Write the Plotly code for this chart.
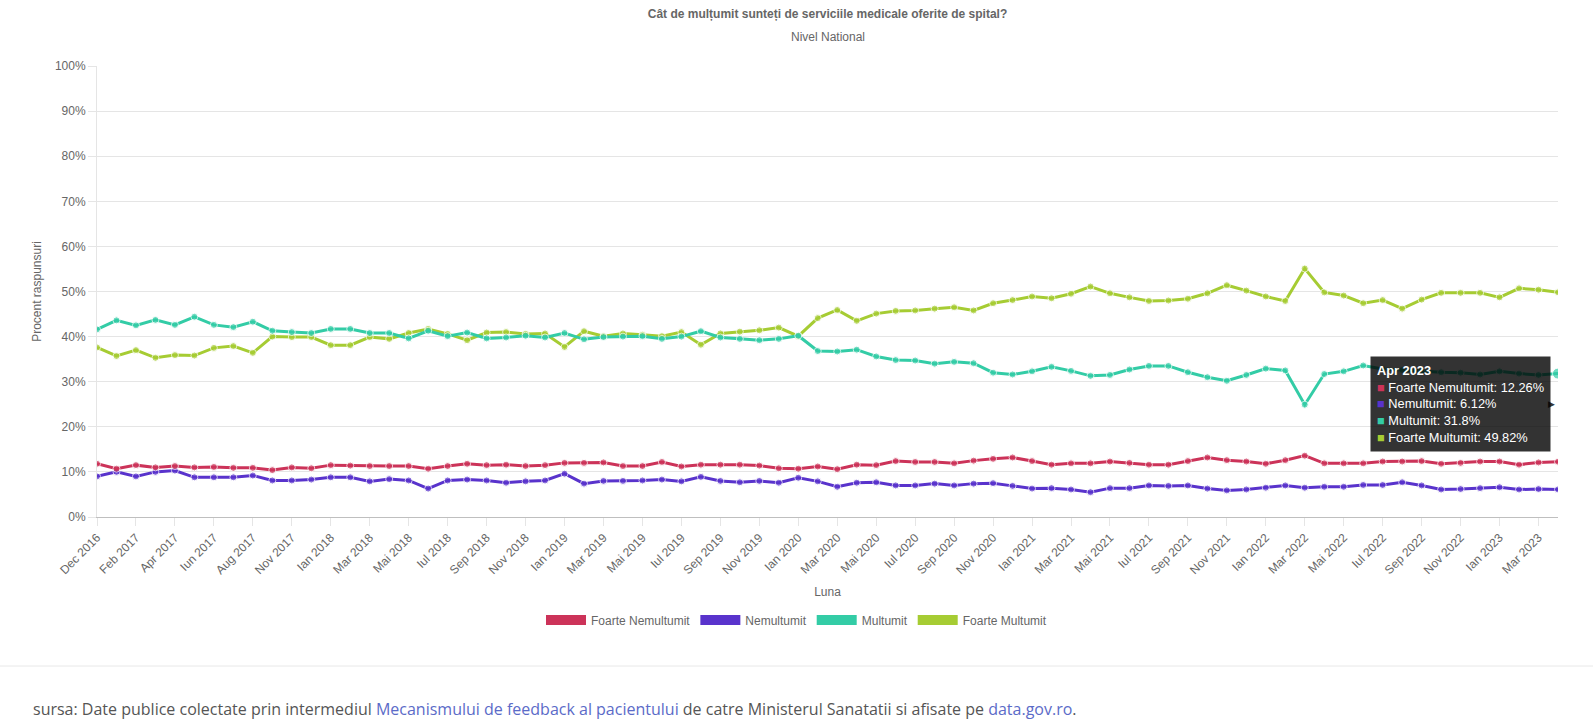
import plotly.graph_objects as go

# lunile din setul de date (Oct 2017 lipseste)
months = [
    "Dec 2016",
    "Ian 2017", "Feb 2017", "Mar 2017", "Apr 2017", "Mai 2017", "Iun 2017",
    "Iul 2017", "Aug 2017", "Sep 2017", "Nov 2017", "Dec 2017",
    "Ian 2018", "Feb 2018", "Mar 2018", "Apr 2018", "Mai 2018", "Iun 2018",
    "Iul 2018", "Aug 2018", "Sep 2018", "Oct 2018", "Nov 2018", "Dec 2018",
    "Ian 2019", "Feb 2019", "Mar 2019", "Apr 2019", "Mai 2019", "Iun 2019",
    "Iul 2019", "Aug 2019", "Sep 2019", "Oct 2019", "Nov 2019", "Dec 2019",
    "Ian 2020", "Feb 2020", "Mar 2020", "Apr 2020", "Mai 2020", "Iun 2020",
    "Iul 2020", "Aug 2020", "Sep 2020", "Oct 2020", "Nov 2020", "Dec 2020",
    "Ian 2021", "Feb 2021", "Mar 2021", "Apr 2021", "Mai 2021", "Iun 2021",
    "Iul 2021", "Aug 2021", "Sep 2021", "Oct 2021", "Nov 2021", "Dec 2021",
    "Ian 2022", "Feb 2022", "Mar 2022", "Apr 2022", "Mai 2022", "Iun 2022",
    "Iul 2022", "Aug 2022", "Sep 2022", "Oct 2022", "Nov 2022", "Dec 2022",
    "Ian 2023", "Feb 2023", "Mar 2023", "Apr 2023",
]

foarte_nemultumit = [
    11.8, 10.7, 11.5, 11.0, 11.3, 11.0, 11.1, 10.9, 10.9, 10.4, 11.0, 10.8,
    11.5, 11.4, 11.3, 11.3, 11.3, 10.7, 11.3, 11.8, 11.5, 11.6, 11.3, 11.5,
    12.0, 12.0, 12.1, 11.3, 11.3, 12.2, 11.2, 11.6, 11.6, 11.6, 11.4, 10.8,
    10.7, 11.2, 10.6, 11.6, 11.5, 12.4, 12.2, 12.2, 11.9, 12.5, 12.9, 13.2,
    12.4, 11.6, 11.9, 11.9, 12.3, 12.0, 11.6, 11.6, 12.4, 13.2, 12.6, 12.3,
    11.8, 12.6, 13.6, 11.9, 11.9, 11.9, 12.3, 12.3, 12.4, 11.8, 12.0, 12.3,
    12.3, 11.6, 12.1, 12.26,
]
nemultumit = [
    9.0, 10.0, 9.0, 10.0, 10.3, 8.8, 8.8, 8.8, 9.2, 8.1, 8.1, 8.3,
    8.8, 8.8, 7.9, 8.4, 8.1, 6.3, 8.1, 8.3, 8.1, 7.6, 7.9, 8.1,
    9.6, 7.4, 8.0, 8.0, 8.1, 8.3, 7.9, 8.9, 8.0, 7.7, 8.0, 7.6,
    8.7, 7.9, 6.7, 7.6, 7.7, 7.0, 7.0, 7.4, 7.0, 7.4, 7.5, 6.9,
    6.3, 6.4, 6.1, 5.5, 6.4, 6.4, 7.0, 6.9, 7.0, 6.3, 5.9, 6.1,
    6.5, 7.0, 6.5, 6.7, 6.7, 7.1, 7.1, 7.7, 7.0, 6.1, 6.2, 6.4,
    6.6, 6.1, 6.2, 6.12,
]
multumit = [
    41.6, 43.6, 42.5, 43.7, 42.6, 44.4, 42.6, 42.1, 43.3, 41.3, 41.0, 40.8,
    41.7, 41.7, 40.8, 40.8, 39.6, 41.3, 40.1, 40.9, 39.6, 39.8, 40.2, 39.8,
    40.8, 39.4, 39.9, 40.0, 40.1, 39.5, 40.0, 41.2, 39.8, 39.5, 39.2, 39.5,
    40.2, 36.8, 36.7, 37.1, 35.6, 34.8, 34.7, 34.0, 34.4, 34.1, 32.0, 31.6,
    32.3, 33.3, 32.4, 31.3, 31.5, 32.7, 33.5, 33.5, 32.1, 31.0, 30.2, 31.5,
    32.9, 32.5, 24.9, 31.7, 32.3, 33.6, 32.8, 32.6, 32.3, 32.1, 32.0, 31.6,
    32.3, 31.8, 31.5, 31.8,
]
foarte_multumit = [
    37.6, 35.7, 37.0, 35.3, 35.9, 35.8, 37.5, 37.9, 36.4, 40.0, 39.9, 39.9,
    38.1, 38.1, 39.9, 39.5, 40.8, 41.7, 40.6, 39.2, 40.9, 41.0, 40.6, 40.7,
    37.7, 41.2, 40.1, 40.7, 40.4, 40.1, 41.0, 38.2, 40.7, 41.1, 41.4, 42.0,
    40.1, 44.1, 45.9, 43.5, 45.1, 45.7, 45.8, 46.2, 46.5, 45.8, 47.4, 48.1,
    48.9, 48.5, 49.5, 51.1, 49.6, 48.7, 47.9, 48.0, 48.4, 49.6, 51.4, 50.2,
    48.9, 47.9, 55.1, 49.8, 49.1, 47.4, 48.1, 46.2, 48.2, 49.7, 49.7, 49.7,
    48.7, 50.7, 50.4, 49.82,
]

series = [
    ("Foarte Nemultumit", foarte_nemultumit, "#cc3359"),
    ("Nemultumit", nemultumit, "#5933cc"),
    ("Multumit", multumit, "#33cca6"),
    ("Foarte Multumit", foarte_multumit, "#a6cc33"),
]

FONT = "Liberation Sans, Arial, sans-serif"
GRID = "rgba(0,0,0,0.1)"

# marimi plot (px)
W, H = 1593, 726
ML, MR, MT, MB = 97, 35, 66, 209
ph = H - MT - MB
pw = W - ML - MR


def py(px_from_top):
    # pozitie verticala in coordonate paper
    return (H - MB - px_from_top) / ph


def px(px_from_left):
    return (px_from_left - ML) / pw


fig = go.Figure()

# punctul "hover" (ultimul) e mai mare doar la Multumit
for name, vals, col in reversed(series):
    sizes = [7] * len(vals)
    if name == "Multumit":
        sizes[-1] = 11
    fig.add_trace(go.Scatter(
        x=months, y=vals, name=name, mode="lines+markers",
        line=dict(color=col, width=3),
        marker=dict(color=col, size=sizes),
        legendgroup=name, showlegend=False,
        hovertemplate="%{x}<br>" + name + ": %{y}%<extra></extra>",
    ))

# legenda cu casute colorate
for name, vals, col in series:
    fig.add_trace(go.Scatter(
        x=[None], y=[None], name=name, mode="lines",
        line=dict(color=col, width=12), legendgroup=name, showlegend=True,
    ))

# tooltip pentru ultima luna
avg_last = sum(v[-1] for _, v, _ in series) / len(series)
tip = ["<b>%s</b>" % months[-1]]
for name, vals, col in series:
    tip.append("<span style='color:%s'>■</span> %s: %s%%" % (col, name, vals[-1]))
fig.add_annotation(
    x=months[-1], y=avg_last, text="<br>".join(tip), showarrow=False,
    xanchor="right", yanchor="middle", xshift=-7, align="left",
    bgcolor="rgba(0,0,0,0.8)", borderpad=6,
    font=dict(color="white", size=12.8, family=FONT),
)
fig.add_annotation(
    x=months[-1], y=avg_last, text="▶", showarrow=False,
    xanchor="right", yanchor="middle", xshift=-1,
    font=dict(color="rgba(0,0,0,0.8)", size=9),
)

# subtitlu
fig.add_annotation(
    x=0.5, y=py(37), xref="paper", yref="paper", text="Nivel National",
    showarrow=False, yanchor="middle", font=dict(size=12, color="#666", family=FONT),
)

# sursa
link = "#5b6bc8"
fig.add_annotation(
    x=px(31), y=py(709), xref="paper", yref="paper",
    xanchor="left", yanchor="middle", showarrow=False, align="left",
    text=("sursa: Date publice colectate prin intermediul "
          "<span style='color:%s'>Mecanismului de feedback al pacientului</span> "
          "de catre Ministerul Sanatatii si afisate pe "
          "<span style='color:%s'>data.gov.ro</span>.") % (link, link),
    font=dict(size=16, color="#555", family="Open Sans, sans-serif"),
)
fig.add_shape(
    type="line", xref="paper", yref="paper",
    x0=px(0), x1=px(W), y0=py(666), y1=py(666),
    line=dict(color="#e8e8e8", width=1),
)

fig.update_layout(
    width=W, height=H,
    margin=dict(l=ML, r=MR, t=MT, b=MB, autoexpand=False),
    paper_bgcolor="white", plot_bgcolor="white",
    font=dict(family=FONT, size=12, color="#666"),
    title=dict(
        text="<b>Cât de mulțumit sunteți de serviciile medicale oferite de spital?</b>",
        x=0.5, xref="paper", xanchor="center",
        y=1 - 14 / H, yref="container", yanchor="middle",
        font=dict(size=12, color="#666", family=FONT),
    ),
    xaxis=dict(
        type="category", range=[0, len(months) - 1],
        tickmode="array", tickvals=months[::2], ticktext=months[::2],
        tickangle=-45, ticks="outside", ticklen=8, tickcolor=GRID,
        showgrid=False, showline=True, linecolor="rgba(0,0,0,0.25)",
        tickfont=dict(size=12, color="#666"),
        title=dict(text="Luna", font=dict(size=12, color="#666"), standoff=11),
        automargin=False,
    ),
    yaxis=dict(
        range=[0, 100], dtick=10, ticksuffix="%",
        ticks="outside", ticklen=8, tickcolor=GRID,
        gridcolor=GRID, showline=True, linecolor=GRID, zeroline=False,
        tickfont=dict(size=12, color="#666"),
        title=dict(text="Procent raspunsuri", font=dict(size=12, color="#666"), standoff=10),
        automargin=False,
    ),
    legend=dict(
        orientation="h", x=px(W / 2), xanchor="center",
        y=py(620), yanchor="middle",
        font=dict(size=12, color="#666"), itemwidth=40, traceorder="normal",
    ),
    hovermode="x",
)

fig.write_html("out.html", config={"displayModeBar": False},
               post_script="document.body.style.margin='0';")
